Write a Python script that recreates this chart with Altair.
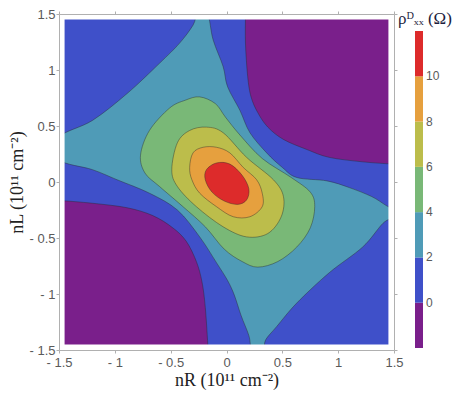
import altair as alt
import pandas as pd

# colour levels (threshold contour bins of rho_xx^D in Ohm)
level_edges = [0, 2, 4, 6, 8, 10]
level_colors = ["#7a1f8b", "#3f50c9", "#4f9bb7", "#79b877", "#bcbd4b", "#e6a03e", "#dd2b2b"]

axis_ticks = [-1.5, -1, -0.5, 0, 0.5, 1, 1.5]

# contour regions (data units, 10^11 cm^-2)
cyan_x = [-1.5, -1.20, -0.89, -0.60, -0.42, -0.30, -0.26, -0.17, -0.12, -0.03, 0.01, 0.12, 0.21,
          0.36, 0.50, 0.63, 0.90, 1.10, 1.30, 1.43, 1.5, 1.5, 1.40, 1.22, 0.92, 0.63, 0.45, 0.35,
          0.33, 0.23, 0.20, 0.13, 0.07, 0.01, -0.09, -0.24, -0.44, -0.69, -0.98, -1.20, -1.5]
cyan_y = [0.40, 0.55, 0.79, 1.06, 1.24, 1.40, 1.5, 1.5, 1.27, 1.03, 0.85, 0.64, 0.44,
          0.26, 0.13, 0.04, 0.01, -0.05, -0.13, -0.21, -0.25, -0.31, -0.37, -0.58, -0.81, -1.08, -1.29, -1.41,
          -1.5, -1.5, -1.37, -1.19, -1.01, -0.88, -0.72, -0.49, -0.25, -0.10, 0.02, 0.11, 0.20]

ptr_x = [0.17, 0.17, 0.19, 0.22, 0.28, 0.37, 0.51, 0.72, 0.92, 1.22, 1.5, 1.7, 1.7, 0.17]
ptr_y = [1.5, 1.24, 0.94, 0.76, 0.62, 0.49, 0.38, 0.29, 0.22, 0.18, 0.16, 0.155, 1.7, 1.7]

pbl_x = [-1.7, -1.5, -1.20, -0.89, -0.66, -0.48, -0.36, -0.27, -0.22, -0.19, -0.165, -0.16, -1.7]
pbl_y = [-0.16, -0.165, -0.19, -0.23, -0.30, -0.41, -0.53, -0.71, -0.89, -1.12, -1.5, -1.7, -1.7]

green_x = [-0.24, -0.10, -0.01, 0.12, 0.32, 0.58, 0.75, 0.79, 0.75, 0.63, 0.46, 0.28, 0.14,
           -0.02, -0.19, -0.39, -0.60, -0.73, -0.77, -0.69, -0.51, -0.37]
green_y = [0.76, 0.70, 0.58, 0.42, 0.21, 0.04, -0.09, -0.22, -0.41, -0.58, -0.71, -0.76, -0.71,
           -0.60, -0.40, -0.22, -0.04, 0.08, 0.24, 0.46, 0.66, 0.73]

yellow_x = [-0.49, -0.44, -0.33, -0.18, -0.03, 0.18, 0.42, 0.51, 0.49, 0.37, 0.18, -0.03, -0.27, -0.44]
yellow_y = [0.11, 0.35, 0.46, 0.49, 0.44, 0.22, 0.02, -0.13, -0.31, -0.46, -0.49, -0.40, -0.22, -0.04]

orange_x = [-0.33, -0.30, -0.21, -0.09, 0.03, 0.15, 0.27, 0.32, 0.32, 0.21, 0.06, -0.09, -0.24, -0.31]
orange_y = [0.13, 0.26, 0.31, 0.31, 0.26, 0.13, 0.02, -0.10, -0.22, -0.31, -0.31, -0.22, -0.10, 0.02]

red_x = [-0.09, -0.18, -0.19, -0.13, -0.02, 0.10, 0.18, 0.20, 0.14, 0.03]
red_y = [0.17, 0.11, 0.02, -0.09, -0.17, -0.20, -0.16, -0.06, 0.06, 0.16]

regions = [
    ("2-4", 3, cyan_x, cyan_y),
    ("<0 top", -1, ptr_x, ptr_y),
    ("<0 bottom", -1, pbl_x, pbl_y),
    ("4-6", 5, green_x, green_y),
    ("6-8", 7, yellow_x, yellow_y),
    ("8-10", 9, orange_x, orange_y),
    (">10", 11, red_x, red_y),
]

# plotted data extent and white margin inside the frame
bg_x1, bg_x2, bg_y1, bg_y2 = [-1.5], [1.5], [-1.5], [1.5]
mask_x1 = [-1.5, 1.45, -1.5, -1.5]
mask_x2 = [-1.45, 1.5, 1.5, 1.5]
mask_y1 = [-1.5, -1.5, -1.5, 1.45]
mask_y2 = [1.5, 1.5, -1.45, 1.5]

xs = alt.Scale(domain=[-1.5, 1.5], nice=False, zero=False)
ys = alt.Scale(domain=[-1.5, 1.5], nice=False, zero=False)

label_expr = "datum.value < 0 ? '- ' + format(-datum.value, '') : format(datum.value, '')"
frame = dict(domainColor="#b0b0b0", tickColor="#b0b0b0", tickSize=3, grid=False, zindex=1,
             values=axis_ticks, labelFont="Liberation Sans", labelFontSize=13, labelColor="#5a5a5a",
             labelFlush=False, labelOverlap=False)
title_style = dict(titleFont="Liberation Serif", titleFontSize=18, titleFontWeight="normal",
                   titleColor="#222222")

bg = alt.Chart(pd.DataFrame({"x": bg_x1, "x2": bg_x2, "y": bg_y1, "y2": bg_y2})).mark_rect(
    color=level_colors[1]).encode(
    x=alt.X("x:Q", scale=xs, axis=alt.Axis(orient="bottom", title="nR   (10¹¹ cm⁻²)", labelExpr=label_expr,
                                           labelPadding=3, titlePadding=2, **frame, **title_style)),
    x2="x2:Q",
    y=alt.Y("y:Q", scale=ys, axis=alt.Axis(orient="left", title="nL   (10¹¹ cm⁻²)", labelExpr=label_expr,
                                           labelPadding=1, titlePadding=2, **frame, **title_style)),
    y2="y2:Q",
)

leg = alt.Legend(type="gradient", direction="vertical", orient="none", legendX=356, legendY=17,
                 title=None, gradientLength=317, gradientThickness=8, gradientStrokeWidth=0,
                 labelFont="Liberation Sans", labelFontSize=12, labelColor="#5a5a5a", labelOffset=3,
                 padding=0)

layers = [bg]
for name, lev, px, py in regions:
    df = pd.DataFrame({"x": px, "y": py, "i": list(range(len(px))), "level": [lev] * len(px),
                       "region": [name] * len(px)})
    layers.append(
        alt.Chart(df).mark_line(interpolate="cardinal-closed", stroke="#2a2a2a", strokeWidth=0.7,
                                strokeOpacity=0.6, clip=True).encode(
            x=alt.X("x:Q", scale=xs, axis=None),
            y=alt.Y("y:Q", scale=ys, axis=None),
            order=alt.Order("i:Q"),
            fill=alt.Fill("level:Q", scale=alt.Scale(type="threshold", domain=level_edges, range=level_colors),
                          legend=leg),
        )
    )

mask = alt.Chart(pd.DataFrame({"x": mask_x1, "x2": mask_x2, "y": mask_y1, "y2": mask_y2})).mark_rect(
    color="white").encode(
    x=alt.X("x:Q", scale=xs, axis=alt.Axis(orient="top", labels=False, title=None, **frame)),
    x2="x2:Q",
    y=alt.Y("y:Q", scale=ys, axis=alt.Axis(orient="right", labels=False, title=None, **frame)),
    y2="y2:Q",
)
layers.append(mask)

chart = alt.layer(*layers).resolve_axis(x="independent", y="independent").properties(
    width=335, height=336,
    autosize=alt.AutoSizeParams(type="none"),
    padding={"left": 51, "top": 6, "right": 61, "bottom": 40},
    title=alt.TitleParams(text="ρᴰₓₓ (Ω)", anchor="start", frame="group", orient="top", offset=0,
                          dx=339, dy=20, font="Liberation Serif", fontSize=17, fontWeight="normal",
                          color="#1c1c3c"),
).configure_view(stroke=None)

chart.save("out.html", embed_options={"renderer": "svg", "actions": False})
